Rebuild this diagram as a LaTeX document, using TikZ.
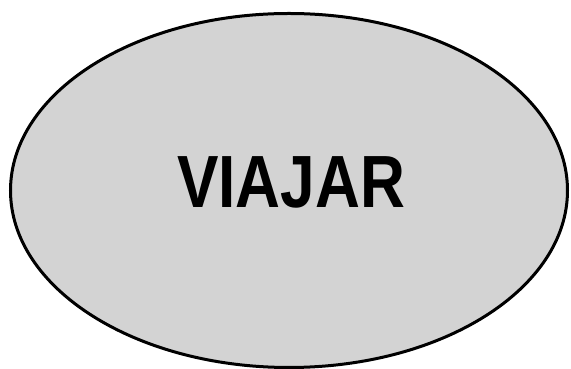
\documentclass[tikz,border=0pt]{standalone}
\usepackage{fontspec}
\setmainfont{Liberation Sans}
\definecolor{ellfill}{RGB}{211,211,211}
\begin{document}
\begin{tikzpicture}[x=1pt,y=1pt,
  blob/.style={draw=black,line width=3pt,fill=ellfill},
  label/.style={font=\fontsize{74}{80}\selectfont\bfseries,xscale=0.84,inner sep=0pt,anchor=base}]
\useasboundingbox (0,0) rectangle (571,369);
\path[blob] (289,178.5) ellipse [x radius=278.5, y radius=177];
\node[label] (t) at (291,161) {VIAJAR};
\end{tikzpicture}
\end{document}
